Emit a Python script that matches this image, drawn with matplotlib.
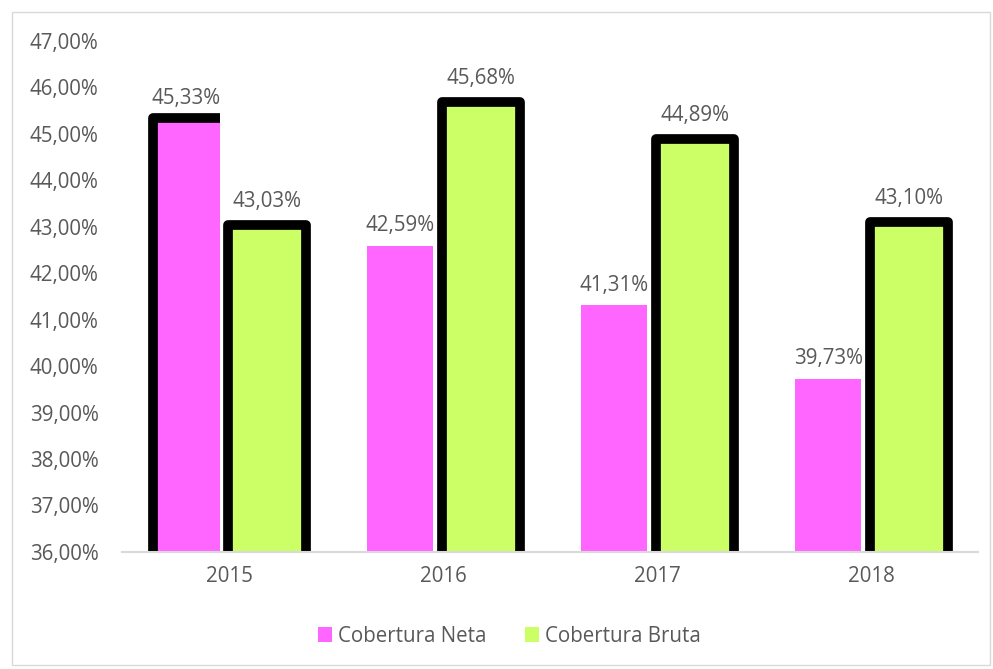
import matplotlib.pyplot as plt
from matplotlib.patches import Rectangle
import numpy as np

years = ["2015", "2016", "2017", "2018"]
neta = [45.33, 42.59, 41.31, 39.73]
bruta = [43.03, 45.68, 44.89, 43.10]

PINK = "#FF66FF"
GREEN = "#CCFF66"
GRAY = "#595959"
FS = 14.8

plt.rcParams["font.family"] = ["Open Sans", "DejaVu Sans"]

fig = plt.figure(figsize=(9.93, 6.69), dpi=100)
ax = fig.add_axes([0.123, 0.175, 0.862, 0.764])

x = np.arange(len(years))

b1 = ax.bar(x - 0.20, neta, 0.31, color=PINK, label="Cobertura Neta", zorder=2)
b2 = ax.bar(x + 0.178, bruta, 0.362, color=GREEN, label="Cobertura Bruta",
            edgecolor="black", linewidth=7, joinstyle="round", zorder=3)

# first pink bar has a black outline on left and top only
p = b1[0]
x0, x1, h = p.get_x(), p.get_x() + p.get_width(), p.get_height()
ax.plot([x0, x0, x1], [36, h, h], color="black", lw=7,
        solid_joinstyle="round", solid_capstyle="butt", zorder=3)

for xi, v in zip(x - 0.20, neta):
    ax.text(xi, v + 0.2, f"{v:.2f}%".replace(".", ","), ha="center", va="bottom",
            fontsize=FS, color=GRAY)
for xi, v in zip(x + 0.178, bruta):
    ax.text(xi, v + 0.28, f"{v:.2f}%".replace(".", ","), ha="center", va="bottom",
            fontsize=FS, color=GRAY)

ax.set_ylim(36, 47)
ax.set_xlim(-0.5, 3.5)
ax.set_yticks(np.arange(36, 48, 1))
ax.set_yticklabels([f"{t:.2f}%".replace(".", ",") for t in range(36, 48)])
ax.set_xticks(x)
ax.set_xticklabels(years)
ax.tick_params(axis="both", length=0, labelsize=FS, colors=GRAY, pad=10)
ax.tick_params(axis="y", pad=17)

for s in ["top", "right", "left"]:
    ax.spines[s].set_visible(False)
ax.spines["bottom"].set_color("#D9D9D9")
ax.spines["bottom"].set_linewidth(1.5)
ax.spines["bottom"].set_zorder(4)

leg = fig.legend(loc="center", bbox_to_anchor=(0.513, 0.049), ncol=2, frameon=False,
                 fontsize=FS, handlelength=0.7, handleheight=0.7,
                 columnspacing=1.85, handletextpad=0.3)
for t in leg.get_texts():
    t.set_color(GRAY)
for hnd in leg.legend_handles:
    hnd.set_linewidth(0)

fig.patches.append(Rectangle((0.012, 0.006), 0.985, 0.976, transform=fig.transFigure,
                             fill=False, edgecolor="#D9D9D9", linewidth=1))

fig.savefig("out.png", dpi=100)
